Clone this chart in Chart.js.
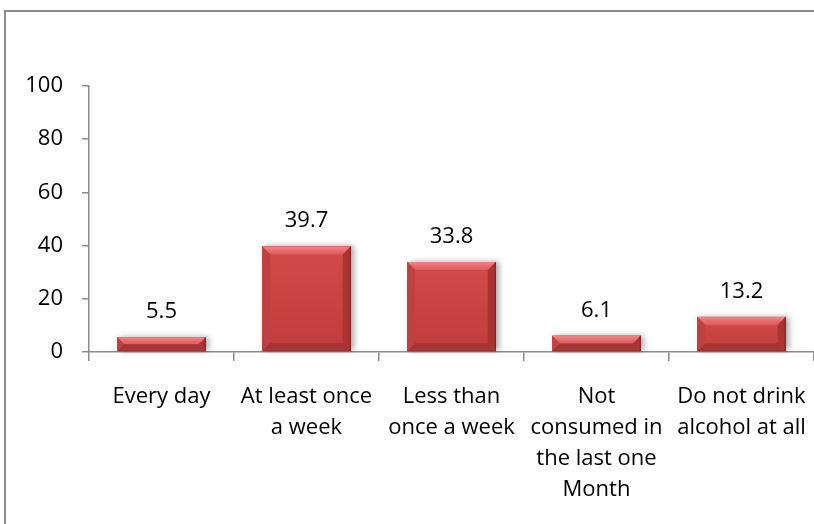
<!DOCTYPE html>
<html>
<head>
<meta charset="utf-8">
<script src="https://cdn.jsdelivr.net/npm/chart.js@4.4.0/dist/chart.umd.min.js"></script>
<style>
  html, body { margin: 0; padding: 0; background: #fff; }
  #wrap { position: relative; width: 814px; height: 524px; overflow: hidden; }
  #frame {
    position: absolute; left: 4px; top: 10px; width: 900px; height: 600px;
    border-left: 2px solid #8c8c8c; border-top: 2px solid #8c8c8c;
  }
  canvas { position: absolute; left: 0; top: 0; }
</style>
</head>
<body>
<div id="wrap">
  <div id="frame"></div>
  <canvas id="drinkChart" width="814" height="524"></canvas>
</div>
<script>
document.addEventListener("DOMContentLoaded", function() {

    var categories = [
        'Every day',
        ['At least once', 'a week'],
        ['Less than', 'once a week'],
        ['Not', 'consumed in', 'the last one', 'Month'],
        ['Do not drink', 'alcohol at all']
    ];
    var percentages = [5.5, 39.7, 33.8, 6.1, 13.2];
    var yTicks = [0, 20, 40, 60, 80, 100];

    var FONT = "'Open Sans', sans-serif";
    var AXIS = '#8c8c8c';

    function barBox(bar) {
        var p = bar.getProps(['x', 'y', 'base', 'width'], true);
        return { l: p.x - p.width / 2, r: p.x + p.width / 2, t: Math.min(p.y, p.base), b: Math.max(p.y, p.base) };
    }

    function quad(ctx, pts, fill) {
        ctx.beginPath();
        ctx.moveTo(pts[0][0], pts[0][1]);
        for (var i = 1; i < pts.length; i++) ctx.lineTo(pts[i][0], pts[i][1]);
        ctx.closePath();
        ctx.fillStyle = fill;
        ctx.fill();
    }

    // soft shadow under bars + bevelled edges on top of them
    var bevelBars = {
        id: 'bevelBars',
        beforeDatasetsDraw: function(chart) {
            var ctx = chart.ctx;
            chart.getDatasetMeta(0).data.forEach(function(bar) {
                var r = barBox(bar);
                ctx.save();
                ctx.shadowColor = 'rgba(0,0,0,0.35)';
                ctx.shadowBlur = 6;
                ctx.shadowOffsetX = 3;
                ctx.shadowOffsetY = 0;
                ctx.fillStyle = '#b83a3a';
                ctx.fillRect(r.l, r.t, r.r - r.l, r.b - r.t - 1);
                ctx.restore();
            });
        },
        afterDatasetsDraw: function(chart) {
            var ctx = chart.ctx;
            chart.getDatasetMeta(0).data.forEach(function(bar) {
                var r = barBox(bar);
                var h = r.b - r.t;
                var b = Math.min(8, h / 2);
                ctx.save();
                var face = ctx.createLinearGradient(0, r.t, 0, r.b);
                face.addColorStop(0, '#d44a4a');
                face.addColorStop(1, '#c03c3c');
                ctx.fillStyle = face;
                ctx.fillRect(r.l, r.t, r.r - r.l, h);

                var top = ctx.createLinearGradient(0, r.t, 0, r.t + b);
                top.addColorStop(0, '#f08484');
                top.addColorStop(1, '#dd5a5a');
                quad(ctx, [[r.l, r.t], [r.r, r.t], [r.r - b, r.t + b], [r.l + b, r.t + b]], top);
                quad(ctx, [[r.l, r.t], [r.l + b, r.t + b], [r.l + b, r.b - b], [r.l, r.b]], '#bf4040');
                quad(ctx, [[r.r, r.t], [r.r - b, r.t + b], [r.r - b, r.b - b], [r.r, r.b]], '#a93434');
                quad(ctx, [[r.l, r.b], [r.l + b, r.b - b], [r.r - b, r.b - b], [r.r, r.b]], '#a53434');

                ctx.strokeStyle = '#7a2020';
                ctx.lineWidth = 1;
                ctx.beginPath();
                ctx.moveTo(r.r - 0.5, r.t);
                ctx.lineTo(r.r - 0.5, r.b);
                ctx.stroke();
                ctx.restore();
            });
        }
    };

    // value written above each bar
    var valueLabels = {
        id: 'valueLabels',
        afterDatasetsDraw: function(chart) {
            var ctx = chart.ctx;
            var ds = chart.data.datasets[0];
            ctx.save();
            ctx.font = '22px ' + FONT;
            ctx.fillStyle = '#000';
            ctx.textAlign = 'center';
            ctx.textBaseline = 'alphabetic';
            chart.getDatasetMeta(0).data.forEach(function(bar, i) {
                ctx.fillText(ds.data[i].toFixed(1), bar.x, bar.y - 19);
            });
            ctx.restore();
        }
    };

    var drinkChart = new Chart(document.getElementById('drinkChart'), {
        type: 'bar',
        data: {
            labels: categories,
            datasets: [{
                data: percentages,
                backgroundColor: '#cc4444',
                borderWidth: 0,
                barPercentage: 0.61,
                categoryPercentage: 1
            }]
        },
        options: {
            responsive: false,
            animation: false,
            layout: { padding: { top: 86, left: 0, right: 0, bottom: 0 } },
            plugins: {
                legend: { display: false },
                tooltip: { enabled: false }
            },
            scales: {
                x: {
                    grid: { drawOnChartArea: false, color: AXIS, tickLength: 9, lineWidth: 1.5 },
                    border: { color: AXIS, width: 1.5 },
                    ticks: {
                        color: '#000',
                        padding: 20,
                        maxRotation: 0,
                        autoSkip: false,
                        font: { family: FONT, size: 22, lineHeight: 1.41 }
                    },
                    afterFit: function(scale) {
                        scale.height = 172;
                        scale.paddingLeft = 0;
                        scale.paddingRight = 0;
                    }
                },
                y: {
                    min: 0,
                    max: 100,
                    afterBuildTicks: function(scale) {
                        scale.ticks = yTicks.map(function(v) { return { value: v }; });
                    },
                    grid: { drawOnChartArea: false, color: AXIS, tickLength: 7, lineWidth: 1.5 },
                    border: { color: AXIS, width: 1.5 },
                    ticks: {
                        color: '#000',
                        padding: 19,
                        font: { family: FONT, size: 22 }
                    },
                    afterFit: function(scale) { scale.width = 89; }
                }
            }
        },
        plugins: [bevelBars, valueLabels]
    });
});
</script>
</body>
</html>
